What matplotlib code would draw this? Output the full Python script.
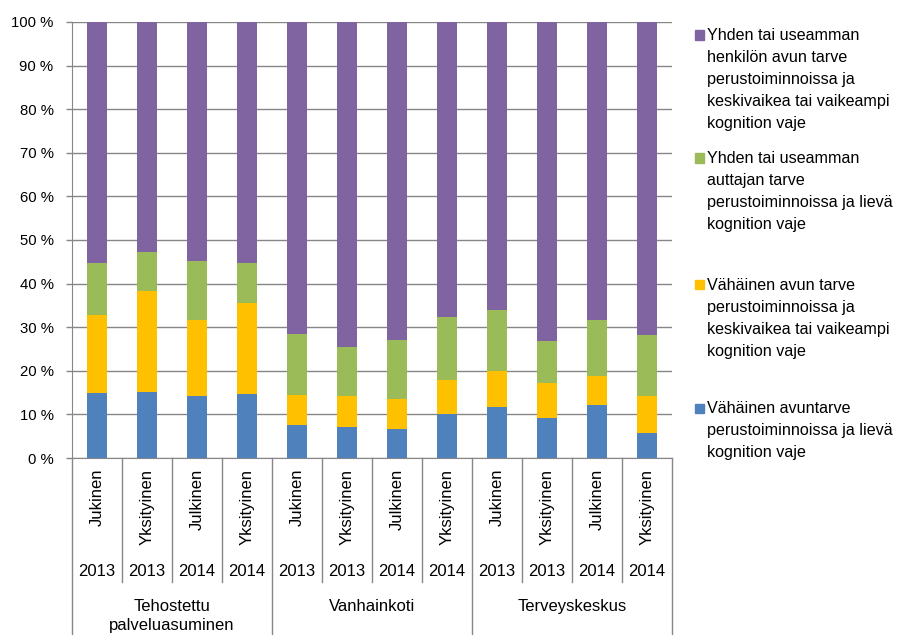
import matplotlib
matplotlib.use("Agg")
import matplotlib.pyplot as plt
from matplotlib.patches import Rectangle
import numpy as np

# data (percent shares)
groups = ["Tehostettu\npalveluasuminen", "Vanhainkoti", "Terveyskeskus"]
sectors = ["Jukinen", "Yksityinen", "Julkinen", "Yksityinen"]
years = ["2013", "2013", "2014", "2014"]

blue = [14.9, 15.2, 14.3, 14.7, 7.6, 7.1, 6.7, 10.2, 11.7, 9.2, 12.2, 5.7]
yellow = [17.9, 23.0, 17.4, 20.9, 6.8, 7.2, 6.9, 7.8, 8.3, 8.0, 6.6, 8.6]
green = [12.0, 9.0, 13.4, 9.1, 14.0, 11.2, 13.5, 14.3, 14.0, 9.7, 12.9, 13.8]
purple = [55.2, 52.8, 54.9, 55.3, 71.6, 74.5, 72.9, 67.7, 66.0, 73.1, 68.3, 71.9]

series_names = [
    "Vähäinen avuntarve\nperustoiminnoissa ja lievä\nkognition vaje",
    "Vähäinen avun tarve\nperustoiminnoissa ja\nkeskivaikea tai vaikeampi\nkognition vaje",
    "Yhden tai useamman\nauttajan tarve\nperustoiminnoissa ja lievä\nkognition vaje",
    "Yhden tai useamman\nhenkilön avun tarve\nperustoiminnoissa ja\nkeskivaikea tai vaikeampi\nkognition vaje",
]
colors = ["#4F81BD", "#FFC000", "#9BBB59", "#8064A2"]

plt.rcParams['font.family'] = ['Liberation Sans', 'DejaVu Sans']
W, H = 899, 635
fig = plt.figure(figsize=(W / 100, H / 100), dpi=100)

# plot area in pixels
left, right, top, bottom = 72, 672, 22, 458
ax = fig.add_axes([left / W, 1 - bottom / H, (right - left) / W, (bottom - top) / H])

gray = "#868686"
n = len(blue)
x = np.arange(n)
all_series = [blue, yellow, green, purple]
base = np.zeros(n)
for vals, col in zip(all_series, colors):
    ax.bar(x, vals, bottom=base, width=0.41, color=col, edgecolor="none", zorder=3)
    base += np.array(vals)

ax.set_xlim(-0.5, n - 0.5)
ax.set_ylim(0, 100)
ax.set_yticks(np.arange(0, 101, 10))
ax.set_yticklabels([f"{v} %" for v in range(0, 101, 10)], fontsize=10.7)
ax.yaxis.grid(True, color=gray, linewidth=1.0, zorder=0)
ax.set_xticks([])
ax.tick_params(axis="y", length=4.3, color=gray, width=1.0, pad=9)
for s in ["top", "right"]:
    ax.spines[s].set_visible(False)
ax.spines["left"].set_color(gray)
ax.spines["bottom"].set_color(gray)


def yfrac(py):
    # pixel row -> axes fraction
    return (bottom - py) / (bottom - top)


trans = ax.get_xaxis_transform()

# category separators
for b in range(n + 1):
    yend = 635 if b % 4 == 0 else 582
    ax.plot([b - 0.5, b - 0.5], [0, yfrac(yend)], color=gray, lw=1.0,
            transform=trans, clip_on=False)

# category labels
for i in range(n):
    ax.text(i, yfrac(469), sectors[i % 4], rotation=90, ha="center", va="top",
            fontsize=12, transform=trans)
    ax.text(i, yfrac(571), years[i % 4], ha="center", va="center",
            fontsize=12, transform=trans)
for g, name in enumerate(groups):
    ax.text(g * 4 + 1.5, yfrac(599), name, ha="center", va="top",
            fontsize=12, linespacing=1.32, transform=trans)

# legend drawn by hand, reversed order
legend_centers = [408, 285, 158, 35]
for name, col, cy in zip(series_names, colors, legend_centers):
    fig.patches.append(Rectangle((695 / W, 1 - (cy + 4.5) / H), 9 / W, 9 / H,
                                 color=col, transform=fig.transFigure))
    fig.text(707 / W, 1 - (cy - 7) / H, name, ha="left", va="top", fontsize=11.6,
             linespacing=1.58)

fig.savefig("out.png", dpi=100)
